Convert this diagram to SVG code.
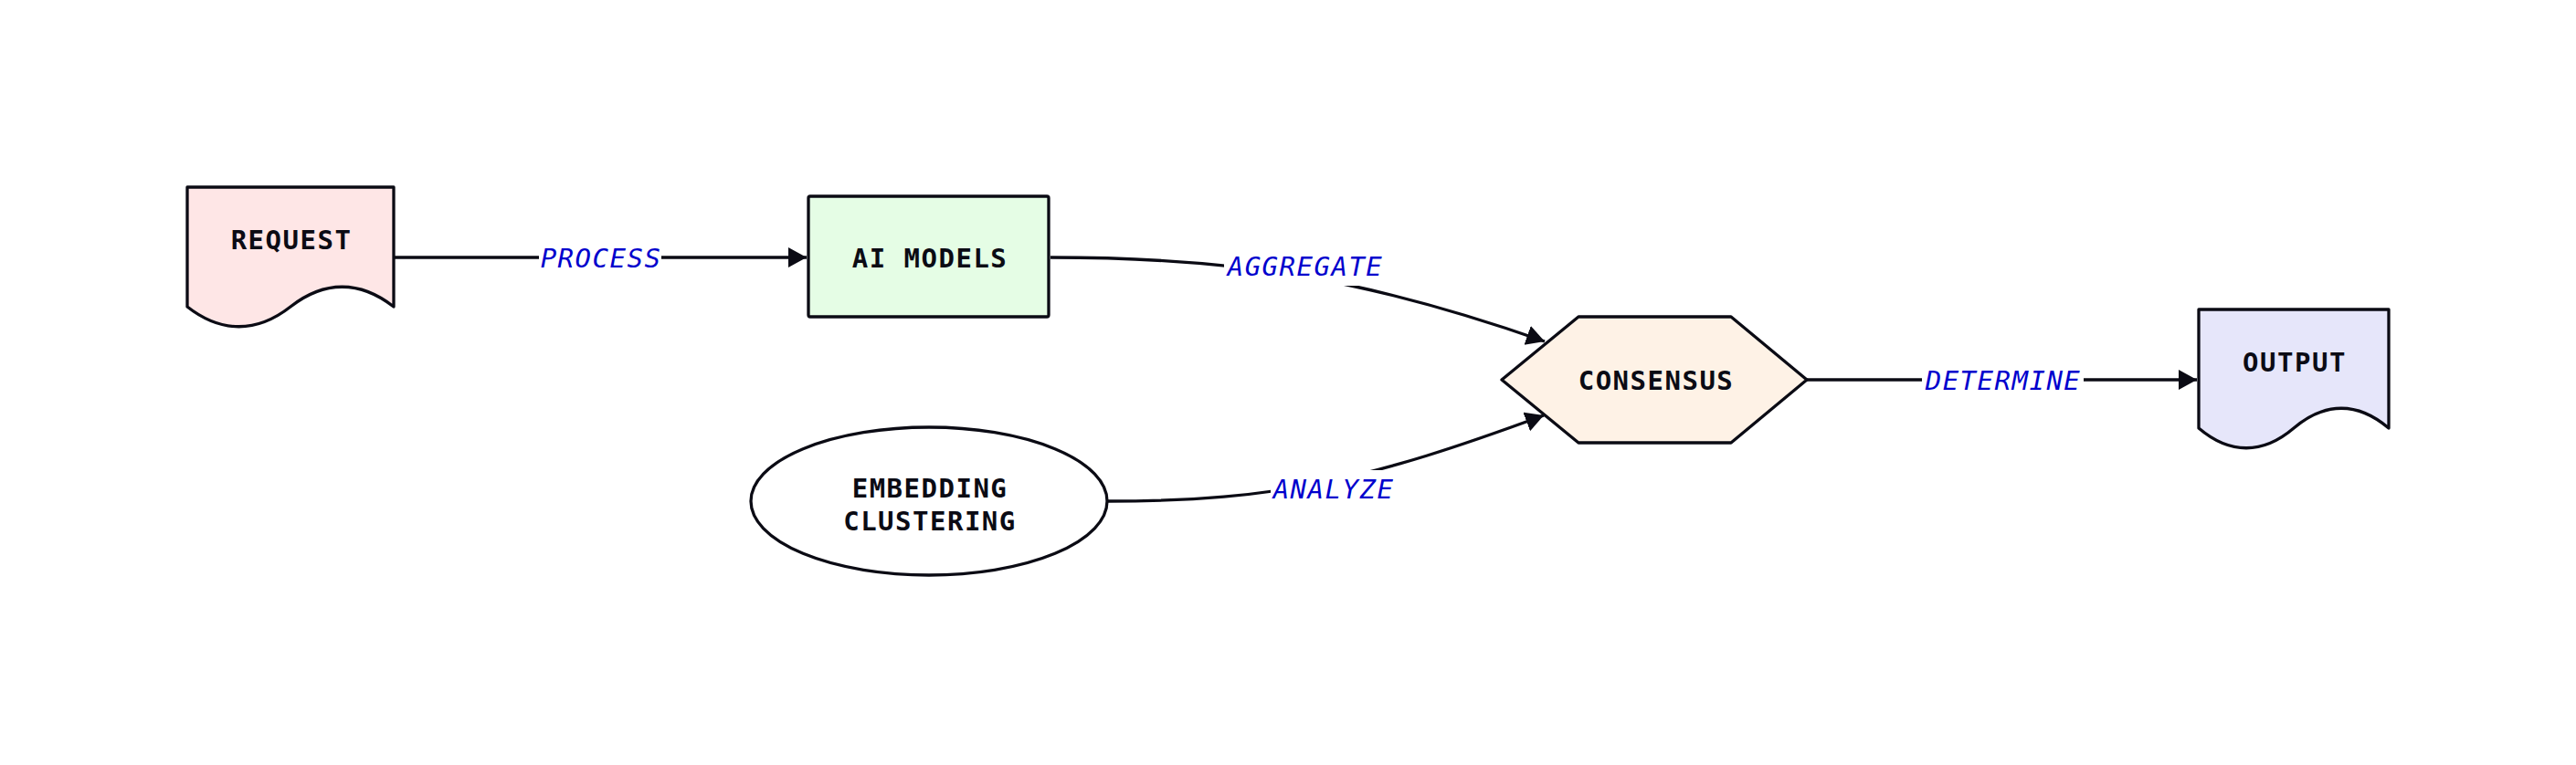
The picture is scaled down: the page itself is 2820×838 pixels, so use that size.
<svg xmlns="http://www.w3.org/2000/svg" width="2820" height="838" viewBox="0 0 2820 838">
<style>
.node{stroke:#0b0b14;stroke-width:3.3;stroke-linejoin:round}
.nt{font-family:"DejaVu Sans Mono","Liberation Mono",monospace;font-weight:bold;font-size:29px;letter-spacing:1.5px;fill:#0b0b14;text-anchor:middle}
.edge{fill:none;stroke:#0b0b14;stroke-width:3.3}
.lbg{fill:#ffffff}
.lt{font-family:"DejaVu Sans Mono","Liberation Mono",monospace;font-style:italic;font-size:29px;letter-spacing:1.5px;fill:#0000cd;text-anchor:middle}
</style>
<defs>
<marker id="arr" markerUnits="userSpaceOnUse" markerWidth="22" markerHeight="24" refX="20" refY="11" orient="auto">
<path d="M0,0 L20,11 L0,22 z" fill="#0b0b14"/>
</marker>
</defs>
<rect width="2820" height="838" fill="#ffffff"/>
<g id="connectors">
<path class="edge" d="M431,282 L883,282" marker-end="url(#arr)"/>
<path class="edge" d="M1150,282 C1350,282 1492,304 1691,374" marker-end="url(#arr)"/>
<path class="edge" d="M1213,549 C1400,549 1500,525 1690,455" marker-end="url(#arr)"/>
<path class="edge" d="M1978,416 L2405,416" marker-end="url(#arr)"/>
<g id="edge-labels">
<rect class="lbg" x="590" y="262" width="134" height="42"/>
<text class="lt" x="658" y="293">PROCESS</text>
<rect class="lbg" x="1340" y="271" width="176" height="42"/>
<text class="lt" x="1429" y="302">AGGREGATE</text>
<rect class="lbg" x="1391" y="515" width="136" height="42"/>
<text class="lt" x="1460" y="546">ANALYZE</text>
<rect class="lbg" x="2104" y="396" width="177" height="42"/>
<text class="lt" x="2193" y="427">DETERMINE</text>
</g>
</g>
<g id="request">
<path class="node" fill="#fee6e6" d="M205,205 L431,205 L431,336 C394,307 355,307 318,336 C281,365 242,365 205,336 Z"/>
<text class="nt" x="319" y="273">REQUEST</text>
</g>
<g id="ai-models">
<rect class="node" fill="#e5fde5" x="885" y="215" width="263" height="132" rx="2"/>
<text class="nt" x="1018" y="293">AI MODELS</text>
</g>
<g id="embedding-clustering">
<ellipse class="node" fill="#ffffff" cx="1017" cy="549" rx="195" ry="81"/>
<text class="nt" x="1018" y="545">EMBEDDING</text>
<text class="nt" x="1018" y="581">CLUSTERING</text>
</g>
<g id="consensus">
<polygon class="node" fill="#fef2e6" points="1644,416 1728,347 1895,347 1978,416 1895,485 1728,485"/>
<text class="nt" x="1813" y="427">CONSENSUS</text>
</g>
<g id="output">
<path class="node" fill="#e6e6fa" d="M2407,339 L2615,339 L2615,469 C2581,440 2545,440 2511,469 C2477,498 2441,498 2407,469 Z"/>
<text class="nt" x="2512" y="407">OUTPUT</text>
</g>
</svg>
